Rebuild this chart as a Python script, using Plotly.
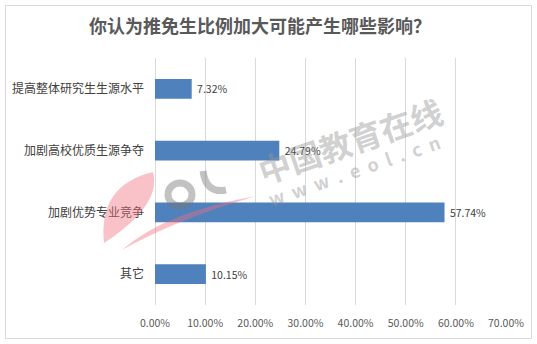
import plotly.graph_objects as go

categories = ["提高整体研究生生源水平", "加剧高校优质生源争夺", "加剧优势专业竞争", "其它"]
values = [7.32, 24.79, 57.74, 10.15]
tick_vals = [0, 10, 20, 30, 40, 50, 60, 70]
tick_text = ["0.00%", "10.00%", "20.00%", "30.00%", "40.00%", "50.00%", "60.00%", "70.00%"]
title_text = "你认为推免生比例加大可能产生哪些影响？"

W, H = 537, 344
L, R, T, B = 155, 31, 58, 39
pw, ph = W - L - R, H - T - B

def px_x(x):
    return (x - L) / pw

def px_y(y):
    return (H - B - y) / ph

def path_px(cmds):
    out = []
    for c in cmds:
        if isinstance(c, str):
            out.append(c)
        else:
            out.append(f"{px_x(c[0]):.4f},{px_y(c[1]):.4f}")
    return " ".join(out)

FONT = "Noto Sans CJK SC, Microsoft YaHei, sans-serif"

fig = go.Figure(go.Bar(
    y=categories, x=values, orientation="h",
    marker=dict(color="#4F81BD", line=dict(width=0)),
    width=0.32,
    text=[f" {v:.2f}%" for v in values],
    textposition="outside",
    textfont=dict(size=10.5, color="#404040", family=FONT),
    cliponaxis=False,
))

fig.update_layout(
    width=W, height=H,
    margin=dict(l=L, r=R, t=T, b=B),
    paper_bgcolor="white", plot_bgcolor="white",
    showlegend=False,
    font=dict(family=FONT),
    title=dict(text="<b>" + title_text + "</b>", x=260 / W, xref="container", xanchor="center",
               y=1 - 27 / H, yanchor="middle",
               font=dict(size=18, color="#595959", family=FONT)),
    xaxis=dict(range=[0, 70], tickvals=tick_vals, ticktext=tick_text,
               showgrid=True, gridcolor="#D9D9D9", gridwidth=1,
               zeroline=True, zerolinecolor="#D9D9D9", zerolinewidth=1,
               showline=False, ticks="", ticklabelstandoff=10,
               tickfont=dict(size=10.5, color="#595959", family=FONT)),
    yaxis=dict(autorange="reversed", showgrid=False, showline=False, ticks="",
               ticklabelstandoff=10,
               tickfont=dict(size=12, color="#404040", family=FONT)),
    bargap=0.68,
)

fig.add_shape(type="rect", xref="paper", yref="paper",
              x0=px_x(5.5), x1=px_x(531.5), y0=px_y(338.5), y1=px_y(5.5),
              line=dict(color="#D9D9D9", width=1), layer="below")

# watermark logo (eol)
pink = "rgba(240,110,125,0.42)"
grey = "rgba(120,120,120,0.45)"
fig.add_shape(type="path", xref="paper", yref="paper", layer="above",
              path=path_px(["M", (104, 243), "Q", (98, 185), (153, 172),
                            "Q", (162, 205), (104, 243), "Z"]),
              fillcolor=pink, line=dict(width=0))
fig.add_shape(type="path", xref="paper", yref="paper", layer="above",
              path=path_px(["M", (122, 250), "Q", (165, 212), (256, 196),
                            "Q", (175, 220), (122, 250), "Z"]),
              fillcolor=pink, line=dict(width=0))
fig.add_shape(type="circle", xref="paper", yref="paper", layer="above",
              x0=px_x(168), x1=px_x(192), y0=px_y(206), y1=px_y(183),
              line=dict(color=grey, width=7), fillcolor="rgba(0,0,0,0)")
fig.add_shape(type="path", xref="paper", yref="paper", layer="above",
              path=path_px(["M", (203, 171), "Q", (206, 194), (226, 190)]),
              line=dict(color=grey, width=7))

fig.add_annotation(text="<b>中国教育在线</b>", xref="paper", yref="paper",
                   xanchor="center", yanchor="middle",
                   x=px_x(350), y=px_y(140), showarrow=False, textangle=-19,
                   font=dict(size=32, color="rgba(150,150,150,0.45)", family=FONT))
fig.add_annotation(text="<b>w  w  w  .  e  o  l  .  c  n</b>", xref="paper", yref="paper",
                   xanchor="center", yanchor="middle",
                   x=px_x(354), y=px_y(170), showarrow=False, textangle=-19,
                   font=dict(size=18, color="rgba(150,150,150,0.45)", family=FONT))

fig.write_html("out.html")
